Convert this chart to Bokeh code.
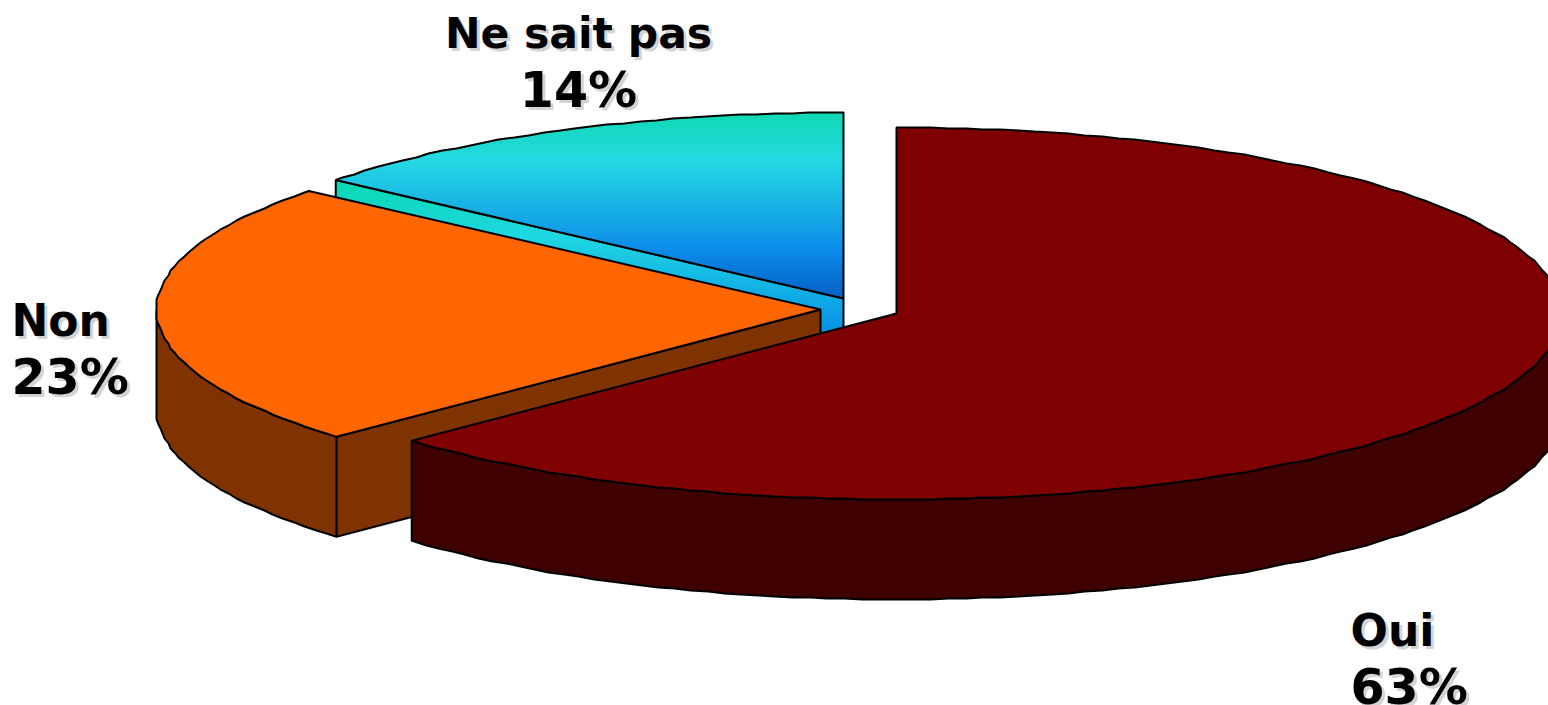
import math
from bokeh.plotting import figure
from bokeh.models import ColumnDataSource
from bokeh.core.properties import value
from bokeh.embed import file_html
from bokeh.resources import INLINE

categories = ["Oui", "Non", "Ne sait pas"]
shares = [63, 23, 14]
pct_labels = ["63%", "23%", "14%"]
top_colors = ["#7F0000", "#FF6600", None]
side_colors = ["#3F0000", "#7F3300", None]

W, H = 1548, 705
RX, RY, DEPTH = 665, 186, 100
radius_x = {"Oui": 665, "Non": 664, "Ne sait pas": 659}
apexes = {"Oui": (896, 313), "Non": (820, 309), "Ne sait pas": (843, 298)}
label_pos = {"Oui": (1350, "left", 630), "Non": (11, "left", 320), "Ne sait pas": (578, "center", 33)}
name_size = {"Oui": "44px", "Non": "44px", "Ne sait pas": "42.5px"}
LINE = 57
stops = [(0.0, (10, 216, 176)), (0.26, (32, 216, 226)), (0.75, (6, 136, 232)), (1.0, (0, 92, 196))]

M = 1
p = figure(width=W + M, height=H + M, x_range=(-M, W), y_range=(H, -M), output_backend="svg",
           toolbar_location=None, min_border=0, outline_line_color=None)
p.margin = (-M, -M, -M, -M)
p.axis.visible = False
p.grid.visible = False


def pt(cat, a):
    c = apexes[cat]
    r = math.radians(a)
    return (c[0] + radius_x[cat] * math.sin(r), c[1] - RY * math.cos(r))


def arc(cat, a0, a1):
    STEP = 1.5
    angs = [a0] + [k * STEP for k in range(int(a0 / STEP) + 1, int(math.ceil(a1 / STEP)))] + [a1]
    out = []
    for i, ang in enumerate(angs):
        x, y = pt(cat, ang)
        if 0 < i < len(angs) - 1:
            x, y = round(x / 2) * 2, round(y)
        out.append((x, y))
    return out


def grad(t):
    t = max(0, min(1, t))
    for (t0, c0), (t1, c1) in zip(stops, stops[1:]):
        if t <= t1:
            f = (t - t0) / (t1 - t0)
            return "#%02x%02x%02x" % tuple(round(u + (v - u) * f) for u, v in zip(c0, c1))
    return "#%02x%02x%02x" % stops[-1][1]


def clip(poly, y0, y1):
    def half(pts, inside, cut):
        res = []
        for i, a in enumerate(pts):
            b = pts[(i + 1) % len(pts)]
            if inside(a):
                res.append(a)
            if inside(a) != inside(b):
                t = (cut - a[1]) / (b[1] - a[1])
                res.append((a[0] + (b[0] - a[0]) * t, cut))
        return res
    r = half(poly, lambda q: q[1] >= y0, y0)
    if r:
        r = half(r, lambda q: q[1] <= y1, y1)
    return r


def poly(pts, color, line="black", lw=2):
    p.patch([q[0] for q in pts], [q[1] for q in pts], fill_color=color, line_color=line, line_width=lw)


def gradient(pts, ya, yb, step=2):
    y = ya
    while y < yb:
        c = clip(pts, y, y + step)
        if len(c) >= 3:
            col = grad((y + step / 2 - ya) / (yb - ya))
            p.patch([q[0] for q in c], [q[1] for q in c], fill_color=col, line_color=col, line_width=0.6)
        y += step
    xs, ys = zip(*(pts + [pts[0]]))
    p.line(list(xs), list(ys), line_color="black", line_width=2)


spans = {}
a = 0.0
for cat, s in zip(categories, shares):
    spans[cat] = (a, a + s * 3.6)
    a += s * 3.6

# Ne sait pas (back, gradient)
cat = "Ne sait pas"
c = apexes[cat]
a0, a1 = spans[cat]
s = pt(cat, a0)
side = [c, s, (s[0], s[1] + DEPTH), (c[0], c[1] + DEPTH)]
gradient(side, s[1], c[1] + DEPTH)
gradient([c] + arc(cat, a0, a1), c[1] - RY, c[1])

# Non
cat = "Non"
c = apexes[cat]
a0, a1 = spans[cat]
s = pt(cat, a0)
poly([c, s, (s[0], s[1] + DEPTH), (c[0], c[1] + DEPTH)], side_colors[1])
front = arc(cat, a0, 270)
poly(front + [(q[0], q[1] + DEPTH) for q in reversed(front)], side_colors[1])
poly([c] + arc(cat, a0, a1), top_colors[1])

# Oui
cat = "Oui"
c = apexes[cat]
a0, a1 = spans[cat]
front = arc(cat, 90, a1)
poly(front + [(q[0], q[1] + DEPTH) for q in reversed(front)], side_colors[0])
poly([c] + arc(cat, a0, a1), top_colors[0])

# labels
xs, ys, tx, al, sz = [], [], [], [], []
for cat, pct in zip(categories, pct_labels):
    x, align, y = label_pos[cat]
    xs += [x, x]
    ys += [y, y + LINE]
    tx += [cat, pct]
    al += [align, align]
    sz += [name_size[cat], "49px"]
src = ColumnDataSource(dict(x=xs, y=ys, t=tx, a=al, s=sz))
font = value("DejaVu Sans")
p.text("x", "y", text="t", source=src, text_align="a", text_baseline="middle", x_offset=3, y_offset=3,
       text_font=font, text_font_style="bold", text_font_size="s", text_color="#d4d4d4")
p.text("x", "y", text="t", source=src, text_align="a", text_baseline="middle",
       text_font=font, text_font_style="bold", text_font_size="s", text_color="black")

open("out.html", "w").write(file_html(p, INLINE))
